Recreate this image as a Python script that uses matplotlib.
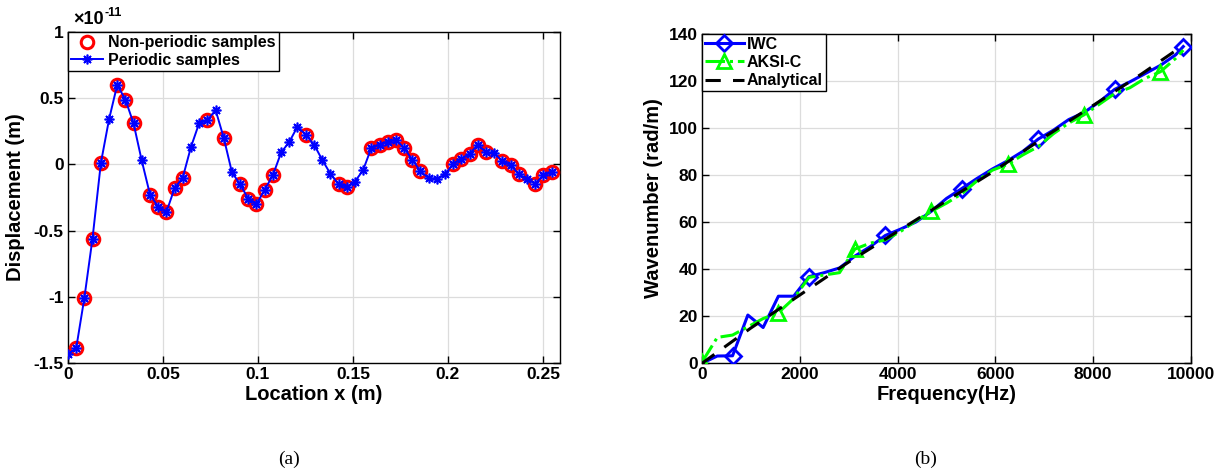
import matplotlib.pyplot as plt
from matplotlib.ticker import FuncFormatter

plt.rcParams['font.family'] = ['Liberation Sans', 'DejaVu Sans']
plt.rcParams['font.weight'] = 'bold'
plt.rcParams['axes.unicode_minus'] = False

# ---------------- (a) displacement samples ----------------
location = [0.0, 0.0043, 0.0086, 0.0129, 0.0173, 0.0216, 0.0259, 0.0302, 0.0345, 0.0388,
            0.0432, 0.0475, 0.0518, 0.0561, 0.0604, 0.0647, 0.0690, 0.0734, 0.0777, 0.0820,
            0.0863, 0.0906, 0.0949, 0.0992, 0.1036, 0.1079, 0.1122, 0.1165, 0.1208, 0.1251,
            0.1295, 0.1338, 0.1381, 0.1424, 0.1467, 0.1510, 0.1553, 0.1597, 0.1640, 0.1683,
            0.1726, 0.1769, 0.1812, 0.1855, 0.1899, 0.1942, 0.1985, 0.2028, 0.2071, 0.2114,
            0.2158, 0.2201, 0.2244, 0.2287, 0.2330, 0.2373, 0.2416, 0.2460, 0.2503, 0.2546]
# displacement in units of 1e-11 m
displacement = [-1.43, -1.39, -1.01, -0.56, 0.01, 0.34, 0.60, 0.49, 0.31, 0.03,
                -0.23, -0.32, -0.36, -0.18, -0.10, 0.13, 0.31, 0.335, 0.41, 0.20,
                -0.06, -0.15, -0.26, -0.30, -0.19, -0.08, 0.09, 0.17, 0.285, 0.225,
                0.15, 0.035, -0.07, -0.15, -0.17, -0.13, -0.045, 0.125, 0.15, 0.17,
                0.185, 0.125, 0.035, -0.05, -0.105, -0.11, -0.075, 0.005, 0.04, 0.08,
                0.15, 0.09, 0.085, 0.025, -0.005, -0.075, -0.11, -0.145, -0.08, -0.06]
nonperiodic_idx = [1, 2, 3, 4, 6, 7, 8, 10, 11, 12, 13, 14, 17, 19, 21, 22, 23, 24, 25, 29,
                   33, 34, 37, 38, 39, 40, 41, 42, 43, 47, 48, 49, 50, 51, 53, 54, 55, 57, 58, 59]

# ---------------- (b) wavenumber ----------------
freq = [0, 312.5, 625, 937.5, 1250, 1562.5, 1875, 2187.5, 2500, 2812.5,
        3125, 3437.5, 3750, 4062.5, 4375, 4687.5, 5000, 5312.5, 5625, 5937.5,
        6250, 6562.5, 6875, 7187.5, 7500, 7812.5, 8125, 8437.5, 8750, 9062.5,
        9375, 9687.5, 9843]
k_iwc = [0, 3.1, 3.2, 20.5, 15.2, 28.5, 28.5, 36.8, 38.5, 40.5,
         45.5, 49.5, 54.3, 57, 60, 64.5, 70, 74.2, 78.5, 82.5,
         86, 90, 95.2, 99, 103.5, 106.5, 111, 116.3, 119.5, 123,
         126.5, 131, 134.5]
k_aksi = [0.5, 11, 12, 15.5, 19, 21.5, 27.5, 36.5, 37.5, 38.5,
          48.5, 51, 52.4, 56, 60.5, 64.5, 68, 72, 77.5, 82,
          84.5, 88.5, 92, 97.5, 102, 105.5, 110, 114.5, 117, 121,
          123.8, 129.5, 133]
freq_ana = [0, 1000, 2000, 3000, 4000, 5000, 6000, 7000, 8000, 9000, 9843]
k_ana = [0, 15, 29, 43, 56, 69, 82, 96, 109.5, 123, 135]

fig = plt.figure(figsize=(12.23, 4.74), dpi=100)
ax1 = fig.add_axes([0.0556, 0.2342, 0.4023, 0.6983])
ax2 = fig.add_axes([0.5740, 0.2335, 0.3998, 0.6956])

asterisk = (8, 2, 0)
np_x = [location[i] for i in nonperiodic_idx]
np_y = [displacement[i] for i in nonperiodic_idx]
ax1.plot(np_x, np_y, 'o', color='red', mfc='none', ms=9, mew=2.2, linestyle='none',
         label='Non-periodic samples', zorder=3)
ax1.plot(location, displacement, '-', color='blue', lw=1.4, marker=asterisk, ms=7, mew=1.2,
         label='Periodic samples', zorder=4)
ax1.set_xlim(0, 0.259)
ax1.set_ylim(-1.5, 1)
ax1.set_xticks([0, 0.05, 0.1, 0.15, 0.2, 0.25])
ax1.set_yticks([-1.5, -1, -0.5, 0, 0.5, 1])
ax1.xaxis.set_major_formatter(FuncFormatter(lambda v, p: '%g' % v))
ax1.yaxis.set_major_formatter(FuncFormatter(lambda v, p: '%g' % v))
ax1.set_xlabel('Location x (m)', fontsize=14.5, fontweight='bold', labelpad=2)
ax1.set_ylabel('Displacement (m)', fontsize=14.5, fontweight='bold', labelpad=6)
ax1.text(0.01, 1.012, '\u00d710', transform=ax1.transAxes, fontsize=13, fontweight='bold',
         ha='left', va='bottom')
ax1.text(0.075, 1.04, '-11', transform=ax1.transAxes, fontsize=9, fontweight='bold',
         ha='left', va='bottom')
leg1 = ax1.legend(loc='upper left', borderaxespad=0, fontsize=11.5, handlelength=2.0,
                  handletextpad=0.3, labelspacing=0.15, borderpad=0.2, fancybox=False,
                  framealpha=1, edgecolor='black')
leg1.get_frame().set_linewidth(1)

ax2.plot(freq, k_iwc, '-', color='blue', lw=2.2, marker='D', ms=8.5, mfc='none', mew=2,
         markevery=[2, 7, 12, 17, 22, 27, 32], label='IWC', zorder=3)
ax2.plot(freq, k_aksi, '-.', color='#00ff00', lw=2.2, marker='^', ms=10, mfc='none', mew=2,
         markevery=[0, 5, 10, 15, 20, 25, 30], label='AKSI-C', zorder=4)
ax2.plot(freq_ana, k_ana, '--', color='black', lw=2.2, dashes=(5, 4), label='Analytical', zorder=5)
ax2.set_xlim(0, 10000)
ax2.set_ylim(0, 140)
ax2.set_xticks([0, 2000, 4000, 6000, 8000, 10000])
ax2.set_yticks([0, 20, 40, 60, 80, 100, 120, 140])
ax2.set_xlabel('Frequency(Hz)', fontsize=14.5, fontweight='bold', labelpad=2)
ax2.set_ylabel('Wavenumber (rad/m)', fontsize=14.5, fontweight='bold', labelpad=4)
leg2 = ax2.legend(loc='upper left', borderaxespad=0, fontsize=11.5, handlelength=2.4,
                  handletextpad=0.2, labelspacing=0.2, borderpad=0.2, fancybox=False,
                  framealpha=1, edgecolor='black')
leg2.get_frame().set_linewidth(1)

for ax in (ax1, ax2):
    ax.grid(True, color='#dcdcdc', lw=0.9)
    ax.set_axisbelow(True)
    ax.tick_params(direction='in', top=True, right=True, length=5, width=1,
                   labelsize=12.5, pad=3)
    for lab in ax.get_xticklabels() + ax.get_yticklabels():
        lab.set_fontweight('bold')
    for sp in ax.spines.values():
        sp.set_linewidth(1)
        sp.set_color('black')

fig.text(0.236, 0.03, '(a)', fontsize=14, family='Liberation Serif', fontweight='normal',
         ha='center', va='center')
fig.text(0.757, 0.03, '(b)', fontsize=14, family='Liberation Serif', fontweight='normal',
         ha='center', va='center')

fig.savefig('out.png', dpi=100)
